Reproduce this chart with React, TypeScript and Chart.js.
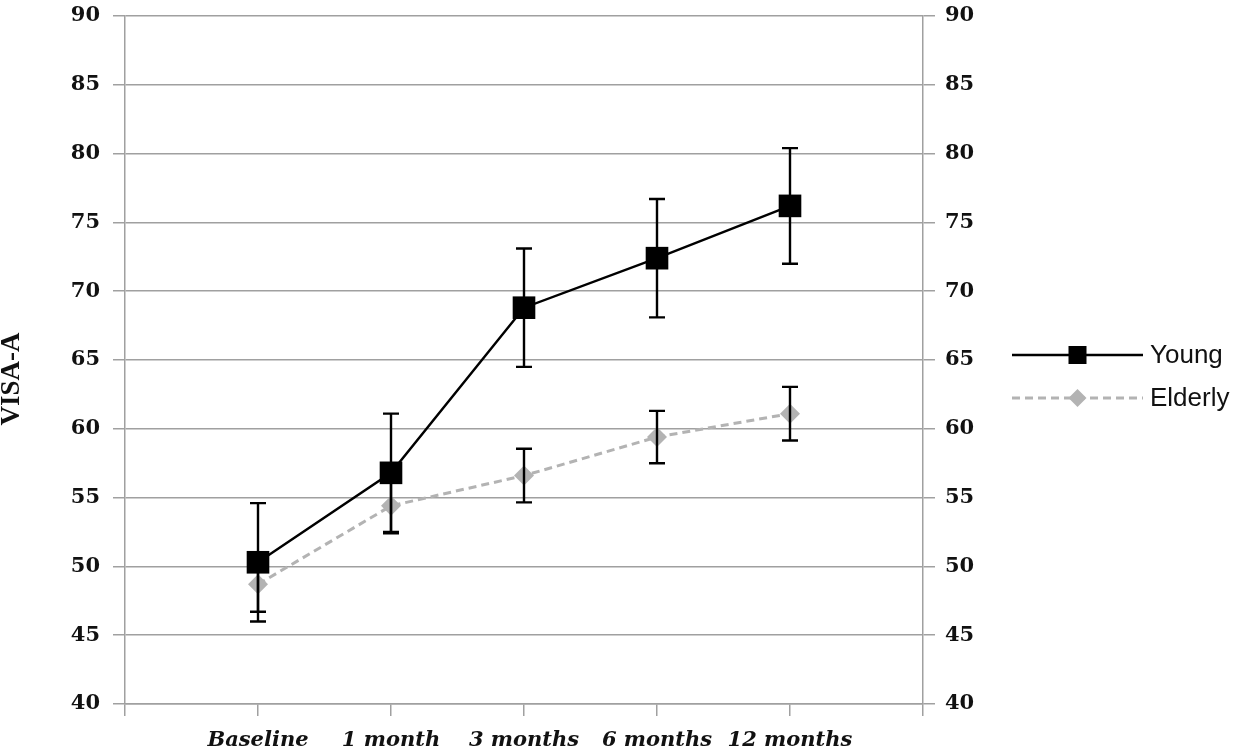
import { useEffect, useRef } from 'react';
import { Chart, registerables } from 'chart.js';

Chart.register(...registerables);

// empty slots at both ends give the half-step margins of the original plot
const categories = ['', 'Baseline', '1 month', '3 months', '6 months', '12 months', ''];
const youngMeans = [null, 50.3, 56.8, 68.8, 72.4, 76.2, null];
const youngErrors = [null, 4.3, 4.3, 4.3, 4.3, 4.2, null];
const elderlyMeans = [null, 48.7, 54.4, 56.6, 59.4, 61.1, null];
const elderlyErrors = [null, 2.0, 2.0, 1.95, 1.9, 1.95, null];
const yMin = 40;
const yMax = 90;
const yStep = 5;

const gridColor = '#a0a0a0';
const textColor = '#111111';
const elderlyColor = '#b3b3b3';

const errorBarPlugin = {
  id: 'errorBars',
  afterDatasetsDraw(chart: any) {
    const { ctx } = chart;
    const xs = chart.scales.x;
    const ys = chart.scales.y;
    const sets = [
      { means: elderlyMeans, errs: elderlyErrors },
      { means: youngMeans, errs: youngErrors },
    ];
    ctx.save();
    ctx.strokeStyle = '#000';
    ctx.lineWidth = 2.4;
    sets.forEach((s) => {
      s.means.forEach((m, i) => {
        const e = s.errs[i];
        if (m == null || e == null) return;
        const px = xs.getPixelForValue(i);
        const top = ys.getPixelForValue(m + e);
        const bot = ys.getPixelForValue(m - e);
        ctx.beginPath();
        ctx.moveTo(px, top);
        ctx.lineTo(px, bot);
        ctx.moveTo(px - 8, top);
        ctx.lineTo(px + 8, top);
        ctx.moveTo(px - 8, bot);
        ctx.lineTo(px + 8, bot);
        ctx.stroke();
      });
    });
    ctx.restore();
  },
};

// y title and the line+marker legend on the right
const decorPlugin = {
  id: 'decor',
  afterDraw(chart: any) {
    const { ctx, chartArea } = chart;

    ctx.save();
    ctx.translate(19, chartArea.top + 363);
    ctx.rotate(-Math.PI / 2);
    ctx.font = 'bold 27px "Liberation Serif"';
    ctx.fillStyle = textColor;
    ctx.textAlign = 'center';
    ctx.textBaseline = 'alphabetic';
    ctx.fillText('VISA-A', 0, 0);
    ctx.restore();

    ctx.save();
    const x0 = chartArea.right + 89;
    const x1 = x0 + 131;
    const mid = (x0 + x1) / 2;
    const yYoung = chartArea.top + 339;
    const yElderly = yYoung + 43;

    ctx.strokeStyle = '#000';
    ctx.lineWidth = 2.4;
    ctx.beginPath();
    ctx.moveTo(x0, yYoung);
    ctx.lineTo(x1, yYoung);
    ctx.stroke();
    ctx.fillStyle = '#000';
    ctx.fillRect(mid - 9, yYoung - 9, 18, 18);

    ctx.strokeStyle = elderlyColor;
    ctx.lineWidth = 3;
    ctx.setLineDash([8, 5]);
    ctx.beginPath();
    ctx.moveTo(x0, yElderly);
    ctx.lineTo(x1, yElderly);
    ctx.stroke();
    ctx.setLineDash([]);
    ctx.fillStyle = elderlyColor;
    ctx.beginPath();
    ctx.moveTo(mid - 9, yElderly);
    ctx.lineTo(mid, yElderly - 9);
    ctx.lineTo(mid + 9, yElderly);
    ctx.lineTo(mid, yElderly + 9);
    ctx.closePath();
    ctx.fill();

    ctx.font = '26px "Liberation Sans"';
    ctx.fillStyle = textColor;
    ctx.textAlign = 'left';
    ctx.textBaseline = 'middle';
    ctx.fillText('Young', x1 + 7, yYoung + 1);
    ctx.fillText('Elderly', x1 + 7, yElderly + 1);
    ctx.restore();
  },
};

const App = () => {
  const canvasRef = useRef<HTMLCanvasElement>(null);
  const chartRef = useRef<Chart | null>(null);

  useEffect(() => {
    if (!canvasRef.current) return;
    if (chartRef.current) chartRef.current.destroy();

    const tickFont = { family: 'DejaVu Serif', weight: 'bold' as const, size: 21 };

    chartRef.current = new Chart(canvasRef.current, {
      type: 'line',
      data: {
        labels: categories,
        datasets: [
          {
            label: 'Young',
            data: youngMeans,
            borderColor: '#000',
            backgroundColor: '#000',
            borderWidth: 2.4,
            pointStyle: 'rect',
            pointRadius: 16,
            pointBorderWidth: 0,
            tension: 0,
          },
          {
            label: 'Elderly',
            data: elderlyMeans,
            borderColor: elderlyColor,
            backgroundColor: elderlyColor,
            borderWidth: 3,
            borderDash: [8, 5],
            pointStyle: 'rectRot',
            pointRadius: 10,
            pointBorderWidth: 0,
            tension: 0,
          },
        ],
      },
      options: {
        animation: false,
        responsive: true,
        maintainAspectRatio: false,
        layout: { padding: 0 },
        plugins: {
          legend: { display: false },
          tooltip: { enabled: false },
        },
        scales: {
          x: {
            type: 'category',
            offset: false,
            grid: { drawOnChartArea: false, tickLength: 12, color: gridColor, lineWidth: 1.5 },
            border: { display: true, color: gridColor, width: 1.5 },
            ticks: {
              autoSkip: false,
              maxRotation: 0,
              padding: 12,
              color: textColor,
              font: { family: 'DejaVu Serif', weight: 'bold', style: 'italic', size: 21 },
            },
            afterFit: (s: any) => {
              s.height = 49;
            },
          },
          y: {
            min: yMin,
            max: yMax,
            grid: { color: gridColor, lineWidth: 1.5, tickLength: 12 },
            border: { display: true, color: gridColor, width: 1.5 },
            ticks: { stepSize: yStep, autoSkip: false, padding: 13, color: textColor, font: tickFont },
            afterFit: (s: any) => {
              s.width = 125;
              s.paddingTop = 14;
              s.paddingBottom = 0;
            },
          },
          y2: {
            position: 'right',
            min: yMin,
            max: yMax,
            grid: { drawOnChartArea: false, color: gridColor, lineWidth: 1.5, tickLength: 12 },
            border: { display: true, color: gridColor, width: 1.5 },
            ticks: { stepSize: yStep, autoSkip: false, padding: 10, color: textColor, font: tickFont },
            afterFit: (s: any) => {
              s.width = 317;
              s.paddingTop = 14;
              s.paddingBottom = 0;
            },
          },
        },
      },
      plugins: [errorBarPlugin, decorPlugin],
    });

    return () => {
      if (chartRef.current) {
        chartRef.current.destroy();
        chartRef.current = null;
      }
    };
  }, []);

  return (
    <div style={{ position: 'fixed', left: 0, top: 0, width: 1240, height: 753, background: '#fff' }}>
      <canvas ref={canvasRef} />
    </div>
  );
};

export default App;
